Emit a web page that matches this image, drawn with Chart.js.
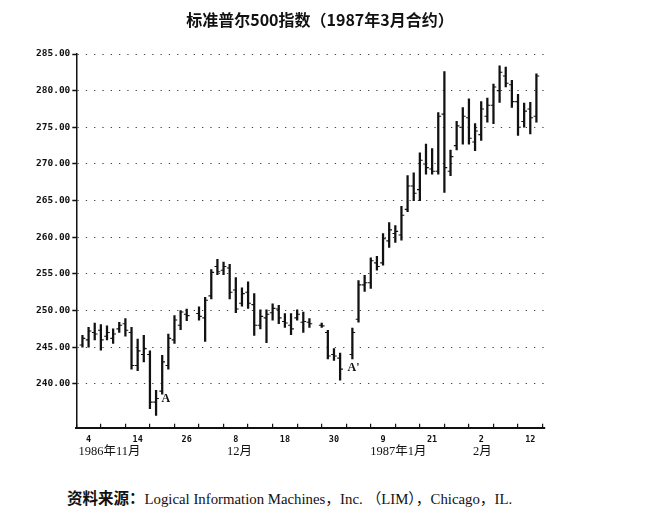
<!DOCTYPE html>
<html>
<head>
<meta charset="utf-8">
<script src="https://cdn.jsdelivr.net/npm/chart.js@4"></script>
<style>
  html, body { margin: 0; padding: 0; background: #fff; }
  #wrap { position: relative; width: 652px; height: 517px; }
  #chart { position: absolute; left: 0; top: 0; }
  #title {
    position: absolute; left: 0; top: 7px; width: 640px; text-align: center;
    font-family: "Noto Sans CJK SC", sans-serif; font-weight: bold; font-size: 16px; color: #111;
  }
  #source {
    position: absolute; left: 67px; top: 486px;
    font-family: "Liberation Serif", "Noto Sans CJK SC", serif; font-size: 14.8px; color: #111;
    white-space: nowrap;
  }
  #source b { font-family: "Noto Sans CJK SC", sans-serif; font-weight: bold; font-size: 15.5px; }
</style>
</head>
<body>
<div id="wrap">
  <canvas id="chart" width="652" height="476"></canvas>
  <div id="title">标准普尔500指数（1987年3月合约）</div>
  <div id="source"><b>资料来源：</b>Logical Information Machines，Inc. （LIM），Chicago，IL.</div>
</div>
<script>
// trading-day index (0 = 4 Nov 1986), gaps are days with no bar
const dayIndex = [-1, 0, 1, 2, 3, 4, 5, 6, 7, 8, 9, 10, 11, 12, 13, 14, 15, 16,
  18, 19, 20, 21, 22, 23, 24, 25, 26, 27, 28, 29, 30, 31, 32, 33, 34, 35, 36,
  38, 39, 40, 41, 43, 44, 45, 46, 47, 48, 49, 50, 51, 52, 53, 54, 55, 56, 57,
  58, 59, 60, 61, 62, 63, 64, 65, 66, 67, 68, 69, 70, 71, 72, 73];

const highs = [246.6, 247.7, 248.3, 248.1, 247.9, 247.5, 248.4, 248.9, 247.7, 246.1, 246.6, 244.5, 239.1, 243.9, 246.8, 249.3, 250.0, 250.2,
  250.5, 251.8, 255.6, 257.0, 256.6, 256.3, 254.5, 253.1, 253.9, 252.3, 250.1, 250.1, 250.9, 250.7, 249.6, 249.6, 250.1, 249.8, 248.9,
  248.3, 247.3, 244.8, 244.2, 247.6, 254.1, 254.8, 257.2, 257.4, 260.5, 262.0, 261.6, 264.2, 268.4, 268.8, 271.5, 272.7, 272.1, 277.0,
  282.6, 271.9, 275.8, 277.7, 278.9, 275.5, 278.5, 279.0, 280.9, 283.4, 283.2, 281.4, 279.5, 278.3, 278.4, 282.3];

const lows = [245.0, 245.0, 246.0, 244.6, 246.0, 245.5, 247.0, 246.5, 242.0, 241.8, 243.0, 236.6, 235.7, 238.6, 242.0, 245.5, 247.4, 248.6,
  248.7, 245.8, 251.6, 254.9, 254.9, 251.6, 249.7, 250.6, 250.3, 246.6, 247.5, 245.6, 248.7, 248.2, 247.7, 246.7, 248.7, 247.0, 247.7,
  247.7, 243.4, 243.2, 240.5, 243.4, 248.4, 252.6, 253.0, 255.5, 256.2, 258.6, 259.3, 259.6, 263.5, 265.0, 265.0, 268.6, 268.6, 268.6,
  266.1, 268.4, 271.9, 272.7, 272.7, 271.8, 273.2, 275.7, 275.5, 278.4, 280.5, 277.7, 273.9, 275.0, 274.1, 275.7];

const opens = [245.3, 246.0, 247.0, 247.3, 246.5, 246.2, 247.5, 248.2, 247.0, 242.5, 244.0, 244.0, 237.5, 239.0, 242.5, 246.0, 248.0, 249.5,
  249.6, 249.0, 252.0, 256.0, 255.5, 255.8, 252.8, 251.0, 252.5, 250.8, 248.0, 249.0, 249.7, 250.2, 248.5, 248.0, 249.0, 248.4, 248.4,
  248.0, 247.0, 244.0, 243.5, 244.0, 248.8, 253.5, 253.8, 256.5, 256.5, 259.5, 260.5, 260.3, 263.8, 267.0, 266.5, 270.0, 269.3, 269.0,
  276.8, 269.0, 272.5, 275.0, 276.3, 273.0, 274.0, 276.5, 278.0, 280.0, 282.0, 280.8, 278.5, 275.8, 277.5, 276.5];

const closes = [246.2, 247.2, 246.8, 246.0, 247.0, 246.8, 248.0, 247.3, 242.5, 244.5, 244.8, 237.5, 238.0, 243.0, 246.2, 248.7, 249.8, 249.3,
  249.2, 251.4, 255.2, 255.3, 256.0, 252.5, 250.2, 252.3, 251.0, 248.0, 249.2, 249.5, 250.3, 249.0, 248.3, 247.5, 249.5, 248.5, 248.2,
  247.9, 243.8, 243.8, 242.0, 247.0, 253.5, 253.8, 256.8, 256.0, 259.8, 261.0, 260.8, 263.0, 267.0, 266.0, 270.5, 269.5, 269.0, 276.5,
  269.5, 271.0, 275.2, 276.5, 273.5, 274.5, 277.5, 278.0, 280.5, 282.5, 281.0, 278.5, 275.0, 277.2, 276.3, 282.0];

const yTicks = [240, 245, 250, 255, 260, 265, 270, 275, 280, 285];
const xTickPos = [0, 4, 8, 12, 16, 20, 24, 28, 32, 36, 40, 44, 48, 52, 56, 60, 64, 68, 72];
const dayLabels = ['4', '14', '26', '8', '18', '30', '9', '21', '2', '12'];
const monthPos = [3.4, 24.6, 50.5, 64.2];
const monthLabels = ['1986年11月', '12月', '1987年1月', '2月'];
const markLabels = ['A', "A'"];
const markPos = [[12.6, 238.0], [43.2, 242.2]];

const X_MIN = -2, X_MAX = 74.4;

// letter marks inside the plot and month names under the day ticks
const markPlugin = {
  id: 'marks',
  afterDraw(chart) {
    const { ctx, chartArea, scales: { x, y } } = chart;
    ctx.save();
    ctx.fillStyle = '#111';
    ctx.textAlign = 'center';
    ctx.textBaseline = 'middle';
    ctx.font = 'bold 12px "Liberation Serif", serif';
    markLabels.forEach((t, k) => {
      ctx.fillText(t, x.getPixelForValue(markPos[k][0]), y.getPixelForValue(markPos[k][1]));
    });
    ctx.font = '12.5px "Liberation Serif", "Noto Sans CJK SC", serif';
    monthLabels.forEach((t, k) => {
      ctx.fillText(t, x.getPixelForValue(monthPos[k]), chartArea.bottom + 24);
    });
    ctx.restore();
  }
};

const tickFont = { family: '"DejaVu Sans Mono", monospace', size: 9.5, weight: 'bold' };

new Chart(document.getElementById('chart'), {
  type: 'bar',
  data: {
    datasets: [
      {
        label: 'range',
        data: dayIndex.map((d, k) => ({ x: d, y: [lows[k], highs[k]] })),
        backgroundColor: '#111',
        barThickness: 1.6,
        order: 2
      },
      {
        type: 'scatter',
        label: 'open',
        data: dayIndex.map((d, k) => ({ x: d - 0.25, y: opens[k] })),
        pointStyle: 'line',
        pointRadius: 1.3,
        borderColor: '#111',
        borderWidth: 1.1,
        order: 1
      },
      {
        type: 'scatter',
        label: 'close',
        data: dayIndex.map((d, k) => ({ x: d + 0.25, y: closes[k] })),
        pointStyle: 'line',
        pointRadius: 1.3,
        borderColor: '#111',
        borderWidth: 1.1,
        order: 1
      }
    ]
  },
  options: {
    responsive: false,
    animation: false,
    layout: { padding: { left: 34, right: 107, top: 54, bottom: 20 } },
    plugins: {
      legend: { display: false },
      tooltip: { enabled: false },
      title: { display: false }
    },
    scales: {
      x: {
        type: 'linear',
        min: X_MIN,
        max: X_MAX,
        offset: false,
        afterBuildTicks: axis => { axis.ticks = xTickPos.map(v => ({ value: v })); },
        ticks: {
          autoSkip: false,
          maxRotation: 0,
          color: '#111',
          font: { family: '"DejaVu Sans Mono", monospace', size: 8.5, weight: 'bold' },
          padding: 11,
          callback: (v, i) => (i % 2 === 0 ? dayLabels[i / 2] : '')
        },
        // ticks point up into the plot, as in the printed chart
        grid: { drawOnChartArea: false, tickLength: -4, color: '#111', lineWidth: 1.2 },
        border: { color: '#111', width: 2 }
      },
      y: {
        min: 234,
        max: 285,
        afterBuildTicks: axis => { axis.ticks = yTicks.map(v => ({ value: v })); },
        ticks: {
          color: '#111',
          font: tickFont,
          padding: 2,
          callback: v => v.toFixed(2)
        },
        grid: {
          color: '#444',
          lineWidth: 1,
          tickLength: 4,
          tickColor: '#111',
          tickWidth: 1.5,
          tickBorderDash: [1, 0]
        },
        border: { color: '#111', width: 1.5, dash: [1.3, 7] }
      }
    }
  },
  plugins: [markPlugin]
});
</script>
</body>
</html>
